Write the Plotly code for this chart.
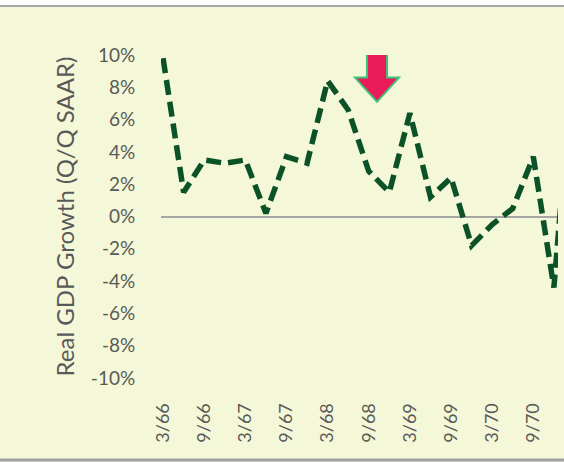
import plotly.graph_objects as go

quarters = ["3/66", "6/66", "9/66", "12/66", "3/67", "6/67", "9/67", "12/67",
            "3/68", "6/68", "9/68", "12/68", "3/69", "6/69", "9/69", "12/69",
            "3/70", "6/70", "9/70", "12/70", "3/71"]
gdp_growth = [9.8, 1.5, 3.5, 3.3, 3.5, 0.2, 3.7, 3.3,
              8.4, 6.6, 2.8, 1.5, 6.4, 1.2, 2.4, -1.8,
              -0.5, 0.5, 3.7, -4.4, 11.0]
tick_labels = ["3/66", "9/66", "3/67", "9/67", "3/68", "9/68", "3/69", "9/69", "3/70", "9/70"]
y_ticks = [10, 8, 6, 4, 2, 0, -2, -4, -6, -8, -10]

idx = list(range(len(quarters)))
tick_idx = [quarters.index(t) for t in tick_labels]

BG = "#F5F8D8"
GREY = "#595959"
FONT = "Lato, 'Open Sans', sans-serif"

fig = go.Figure()
fig.add_trace(go.Scatter(
    x=idx, y=gdp_growth, mode="lines",
    line=dict(color="#0B5229", width=5.5, dash="15px,7px"),
    hoverinfo="skip", showlegend=False,
))

# block arrow annotation (data coordinates: around 9/68)
ax = 10.4
arrow_path = (f"M {ax-0.49},10.45 L {ax+0.49},10.45 L {ax+0.49},8.6 L {ax+1.07},8.6 "
              f"L {ax},7.1 L {ax-1.07},8.6 L {ax-0.49},8.6 Z")

shapes = [
    dict(type="path", path=arrow_path, xref="x", yref="y",
         fillcolor="#E91B58", line=dict(color="#3DC47A", width=2)),
    # white strip and border lines of the chart frame
    dict(type="rect", xref="paper", yref="paper", x0=-1, x1=2, y0=1.152, y1=1.3,
         fillcolor="white", line=dict(width=0), layer="below"),
    dict(type="line", xref="paper", yref="paper", x0=-1, x1=2, y0=1.152, y1=1.152,
         line=dict(color="#A8A8A8", width=2)),
    dict(type="line", xref="paper", yref="paper", x0=-1, x1=2, y0=-0.254, y1=-0.254,
         line=dict(color="#A0A0A0", width=3)),
]

fig.update_layout(
    width=564, height=462,
    margin=dict(l=161, r=6, t=55, b=84),
    paper_bgcolor=BG, plot_bgcolor=BG,
    font=dict(family=FONT, color=GREY),
    shapes=shapes,
    xaxis=dict(
        range=[-0.1, 19.2], tickmode="array", tickvals=tick_idx, ticktext=tick_labels,
        tickangle=-90, tickfont=dict(size=18, color=GREY, family=FONT),
        showgrid=False, zeroline=False, showline=False,
        ticks="outside", ticklen=17, tickcolor=BG,
    ),
    yaxis=dict(
        range=[-10, 10], tickmode="array", tickvals=y_ticks,
        ticktext=[f"{v}%" for v in y_ticks],
        tickfont=dict(size=19, color=GREY, family=FONT),
        showgrid=False, zeroline=True, zerolinecolor="#A6A6A6", zerolinewidth=1.5,
        showline=False, ticks="outside", ticklen=21, tickcolor=BG,
        title=dict(text="Real GDP Growth (Q/Q SAAR)", font=dict(size=24, color=GREY, family=FONT),
                   standoff=9),
    ),
)

fig.write_html("out.html", config={"displayModeBar": False},
               post_script="document.body.style.margin='0';")
